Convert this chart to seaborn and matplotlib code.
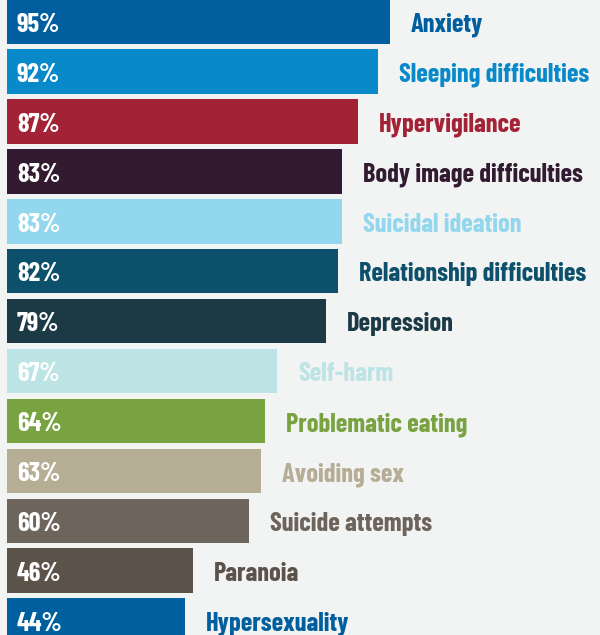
import matplotlib
matplotlib.use("Agg")
import matplotlib.pyplot as plt
import seaborn as sns
import pandas as pd

categories = ["Anxiety", "Sleeping difficulties", "Hypervigilance",
              "Body image difficulties", "Suicidal ideation",
              "Relationship difficulties", "Depression", "Self-harm",
              "Problematic eating", "Avoiding sex", "Suicide attempts",
              "Paranoia", "Hypersexuality"]
values = [95, 92, 87, 83, 83, 82, 79, 67, 64, 63, 60, 46, 44]
colors = ["#015f9f", "#0789ca", "#a32235", "#321a30", "#93d7ee",
          "#0d506b", "#1b3a46", "#bde4e5", "#79a341", "#b6ad95",
          "#6d645b", "#5b5249", "#005f9e"]

df = pd.DataFrame({"category": categories, "value": values})

sns.set_theme(style="white")
plt.rcParams["font.family"] = ["Barlow Condensed", "Roboto Condensed", "DejaVu Sans"]

bg = "#f2f3f3"
fig = plt.figure(figsize=(6.0, 6.35), dpi=100, facecolor=bg)
ax = fig.add_axes([0, 0, 1, 1], facecolor=bg)

sns.barplot(data=df, x="value", y="category", hue="category",
            palette=colors, legend=False, width=0.89, saturation=1,
            orient="h", linewidth=0, ax=ax)

for i, (cat, val, col) in enumerate(zip(categories, values, colors)):
    ax.text(2.4, i + 0.205, f"{val}%", color="white", fontsize=19,
            fontweight="bold", ha="left", va="baseline")
    ax.text(val + 5.2, i + 0.205, cat, color=col, fontsize=19,
            fontweight="bold", ha="left", va="baseline")

ax.set_xlim(-1.8, 147.1)
ax.set_ylim(12.29, -0.436)
ax.set_axis_off()

fig.savefig("out.png", dpi=100, facecolor=bg)
